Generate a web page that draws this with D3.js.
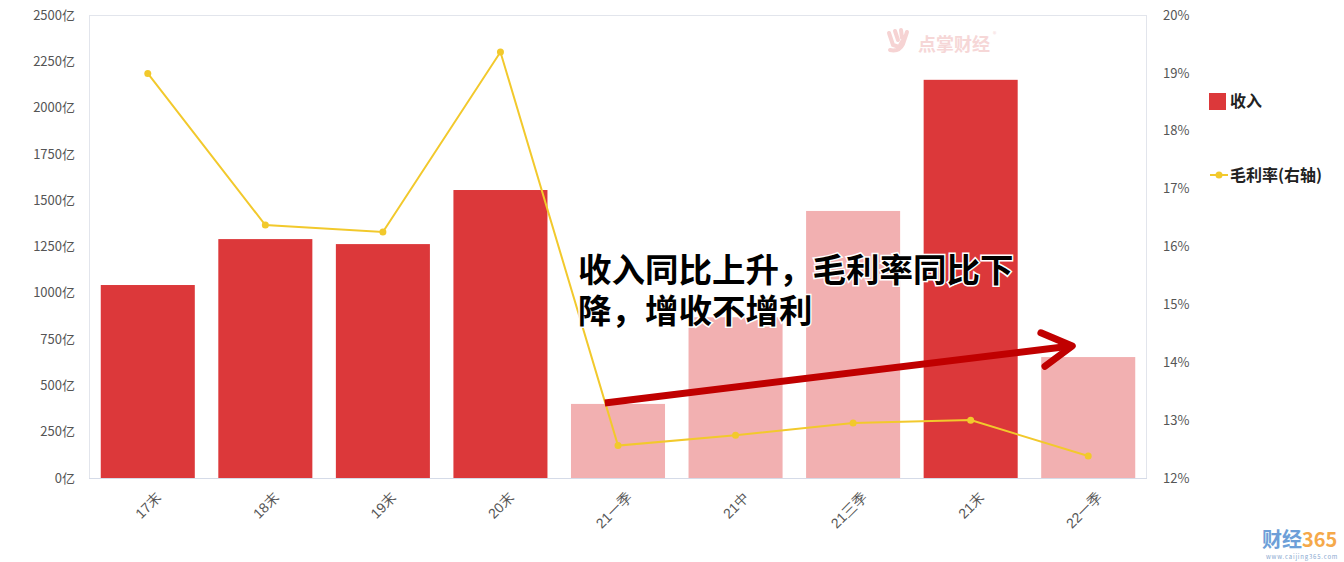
<!DOCTYPE html>
<html><head><meta charset="utf-8">
<script src="https://cdn.jsdelivr.net/npm/d3@7/dist/d3.min.js"></script>
<style>
html,body{margin:0;padding:0;background:#fff;}
svg{display:block;font-family:"Noto Sans CJK SC","Noto Sans",sans-serif;}
</style></head>
<body><svg id="c" width="1344" height="562"></svg>
<script>
const categories = ["17末","18末","19末","20末","21一季","21中","21三季","21末","22一季"];
const revenue = [1042, 1290, 1263, 1555, 400, 868, 1442, 2150, 653];
const isAnnual = [true, true, true, true, false, false, false, true, false];
const grossMargin = [18.99, 16.37, 16.25, 19.36, 12.56, 12.74, 12.95, 13.0, 12.38];
const leftTicks = [0,250,500,750,1000,1250,1500,1750,2000,2250,2500];
const rightTicks = [12,13,14,15,16,17,18,19,20];
const annotationLines = ["收入同比上升，毛利率同比下","降，增收不增利"];

const svg = d3.select("#c");
const M = {l:89, r:1147, t:15, b:478};
const x = d3.scaleBand().domain(categories).range([M.l, M.r]).paddingInner(0.2).paddingOuter(0.1);
const yL = d3.scaleLinear().domain([0,2500]).range([M.b, M.t]);
const yR = d3.scaleLinear().domain([12,20]).range([M.b, M.t]);

// frame
svg.append("rect").attr("x",M.l+0.5).attr("y",M.t+0.5).attr("width",M.r-M.l-1).attr("height",M.b-M.t)
  .attr("fill","none").attr("stroke","#e2e5ec").attr("stroke-width",1);
svg.append("line").attr("x1",M.l).attr("x2",M.r).attr("y1",M.b+0.5).attr("y2",M.b+0.5).attr("stroke","#d5dbe8");

// watermark
const wm = svg.append("g").attr("opacity",0.9);
wm.append("path").attr("d","M889,33 L893,45 L899,47 L903,40 M895,31 L898,40 M901,30 L902,38 M907,32 L903,44 Q899,52 890,50")
  .attr("fill","none").attr("stroke","#f6cfcf").attr("stroke-width",4).attr("stroke-linecap","round");
wm.append("text").attr("x",918).attr("y",51).attr("font-size",18).attr("font-weight","bold")
  .attr("fill","#f6d3d3").text("点掌财经");
wm.append("text").attr("x",993).attr("y",37).attr("font-size",7).attr("fill","#f6d3d3").text("®");

// axes
const axL = d3.axisLeft(yL).tickValues(leftTicks).tickSize(0).tickPadding(14).tickFormat(d=>d+"亿");
const gL = svg.append("g").attr("transform",`translate(${M.l},0)`).call(axL);
gL.select(".domain").remove();
gL.selectAll("text").attr("font-size",13).attr("fill","#555").attr("font-family","'Noto Sans CJK SC',sans-serif");

const axR = d3.axisRight(yR).tickValues(rightTicks).tickSize(0).tickPadding(16).tickFormat(d=>d+"%");
const gR = svg.append("g").attr("transform",`translate(${M.r},0)`).call(axR);
gR.select(".domain").remove();
gR.selectAll("text").attr("font-size",13).attr("fill","#555").attr("font-family","'Noto Sans CJK SC',sans-serif");

// bars
svg.append("g").selectAll("rect").data(categories).join("rect")
  .attr("x",d=>x(d)).attr("width",x.bandwidth())
  .attr("y",(d,i)=>yL(revenue[i])).attr("height",(d,i)=>yL(0)-yL(revenue[i]))
  .attr("fill",(d,i)=>isAnnual[i] ? "#dc383a" : "#f2b0b1");

// x labels
const axB = d3.axisBottom(x).tickSize(0).tickPadding(0);
const gB = svg.append("g").attr("transform",`translate(0,${M.b})`).call(axB);
gB.select(".domain").remove();
gB.selectAll("text").attr("font-size",14).attr("fill","#555")
  .attr("text-anchor","end").attr("dy","0.35em")
  .attr("transform","translate(11,17) rotate(-45)");

// line
const lineGen = d3.line().x((d,i)=>x(categories[i])+x.bandwidth()/2).y(d=>yR(d));
svg.append("path").datum(grossMargin).attr("d",lineGen).attr("fill","none")
  .attr("stroke","#f2c92c").attr("stroke-width",2);
svg.append("g").selectAll("circle").data(grossMargin).join("circle")
  .attr("cx",(d,i)=>x(categories[i])+x.bandwidth()/2).attr("cy",d=>yR(d)).attr("r",3.5)
  .attr("fill","#f2c92c");

// arrow annotation
const bw = x.bandwidth();
const ax0 = x("21一季")+bw*0.36, ay0 = yL(405);
const ax1 = x("22一季")+bw*0.33, ay1 = yL(713);
const ang = Math.atan2(ay0-ay1, ax0-ax1);
const hl = 34, ha = 0.52;
const arrow = svg.append("g").attr("stroke","#c00000").attr("stroke-width",7).attr("fill","none")
  .attr("stroke-linecap","round").attr("stroke-linejoin","round");
arrow.append("line").attr("x1",ax0).attr("y1",ay0).attr("x2",ax1-3*Math.cos(ang+Math.PI)).attr("y2",ay1-3*Math.sin(ang+Math.PI)).attr("stroke-linecap","butt");
arrow.append("path").attr("d",`M${ax1+hl*Math.cos(ang-ha)},${ay1+hl*Math.sin(ang-ha)} L${ax1},${ay1} L${ax1+hl*Math.cos(ang+ha)},${ay1+hl*Math.sin(ang+ha)}`);

// annotation text
annotationLines.forEach((t,i)=>{
  svg.append("text").attr("x",578).attr("y",282+i*41).attr("font-size",33.5).attr("font-weight","bold")
    .attr("fill","#000").attr("stroke","#fff").attr("stroke-width",3).attr("paint-order","stroke")
    .attr("font-family","'Noto Sans CJK SC',sans-serif").text(t);
});

// legend
const lg = svg.append("g").attr("font-size",16).attr("font-weight","bold").attr("fill","#222");
lg.append("rect").attr("x",1209).attr("y",93).attr("width",17).attr("height",17).attr("fill","#dc383a");
lg.append("text").attr("x",1230).attr("y",107).text("收入");
lg.append("line").attr("x1",1210).attr("x2",1228).attr("y1",175).attr("y2",175).attr("stroke","#f2c92c").attr("stroke-width",2);
lg.append("circle").attr("cx",1219).attr("cy",175).attr("r",3.5).attr("fill","#f2c92c");
lg.append("text").attr("x",1230).attr("y",181).text("毛利率(右轴)");

// corner logo
const lo = svg.append("g");
lo.append("text").attr("x",1262).attr("y",547).attr("font-size",20).attr("font-weight","bold").attr("fill","#6d9fd8").text("财经");
lo.append("text").attr("x",1302).attr("y",547).attr("font-size",20).attr("font-weight","bold").attr("fill","#f5a94a").text("365");
lo.append("text").attr("x",1266).attr("y",559).attr("font-size",6).attr("fill","#8aa9d0").attr("letter-spacing",0.8).text("www.caijing365.com");
</script></body></html>
